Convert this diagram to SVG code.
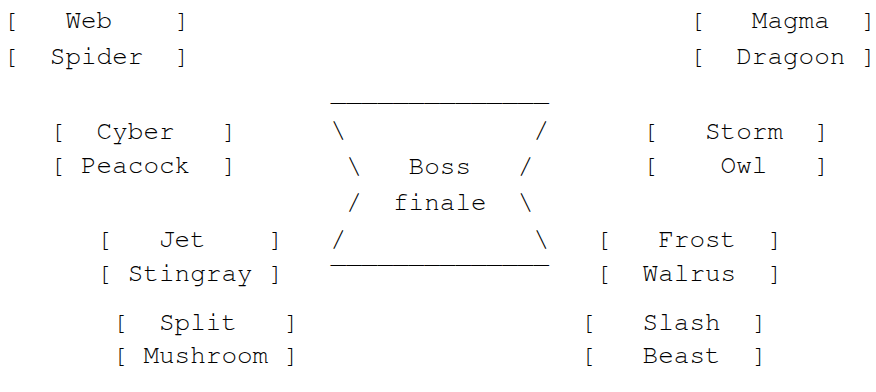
<svg xmlns="http://www.w3.org/2000/svg" width="876" height="392" viewBox="0 0 876 392">
<style>
text { font-family: "Nimbus Mono PS", "Nimbus Mono L", FreeMono, Courier, "Liberation Mono", monospace; font-size: 26px; fill: #000; white-space: pre; }
</style>
<rect width="876" height="392" fill="#fff"/>
<g id="connectors"></g>
<g id="boss-finale" xml:space="preserve">
<text x="330.6" y="101">______________</text>
<text x="330.6" y="137.5">\            /</text>
<text x="330.6" y="174"> \   Boss   / </text>
<text x="330.6" y="210.3"> /  finale  \ </text>
<text x="330.6" y="246.7">/            \</text>
<text x="330.6" y="283.1">‾‾‾‾‾‾‾‾‾‾‾‾‾‾</text>
</g>
<g id="web-spider" xml:space="preserve">
<text x="3" y="28.3">[   Web    ]</text>
<text x="3" y="63.5">[  Spider  ]</text>
</g>
<g id="magma-dragoon" xml:space="preserve">
<text x="689.4" y="28.3">[   Magma  ]</text>
<text x="689.4" y="63.5">[  Dragoon ]</text>
</g>
<g id="cyber-peacock" xml:space="preserve">
<text x="49.8" y="138.5">[  Cyber   ]</text>
<text x="49.8" y="173">[ Peacock  ]</text>
</g>
<g id="storm-owl" xml:space="preserve">
<text x="642.6" y="138.5">[   Storm  ]</text>
<text x="642.6" y="173">[    Owl   ]</text>
</g>
<g id="jet-stingray" xml:space="preserve">
<text x="96.6" y="246.7">[   Jet    ]</text>
<text x="96.6" y="281">[ Stingray ]</text>
</g>
<g id="frost-walrus" xml:space="preserve">
<text x="595.8" y="246.7">[   Frost  ]</text>
<text x="595.8" y="281">[  Walrus  ]</text>
</g>
<g id="split-mushroom" xml:space="preserve">
<text x="112.2" y="330">[  Split   ]</text>
<text x="112.2" y="363">[ Mushroom ]</text>
</g>
<g id="slash-beast" xml:space="preserve">
<text x="580.2" y="330">[   Slash  ]</text>
<text x="580.2" y="363">[   Beast  ]</text>
</g>
</svg>
